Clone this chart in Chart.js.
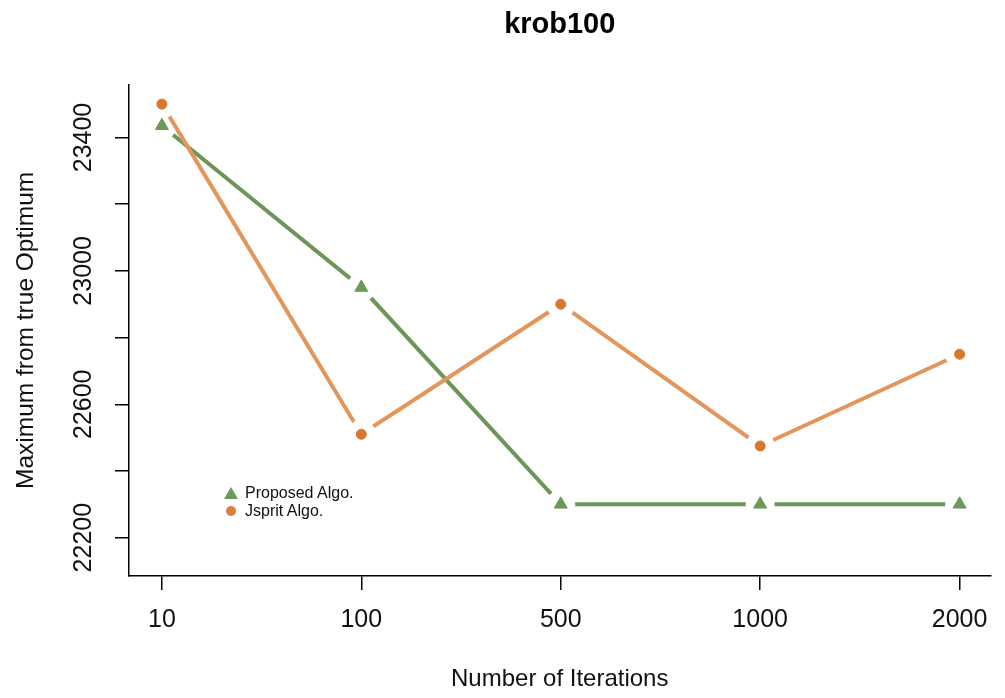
<!DOCTYPE html>
<html>
<head>
<meta charset="utf-8">
<script src="https://cdn.jsdelivr.net/npm/chart.js@4.4.0/dist/chart.umd.min.js"></script>
<style>
  html, body { margin: 0; padding: 0; background: #fff; }
  #wrap { position: relative; width: 1005px; height: 698px; }
  #legend {
    position: absolute; left: 224px; top: 484px;
    font: 16px "Liberation Sans", Arial, sans-serif; color: #111; line-height: 18px;
  }
  .item { display: flex; align-items: center; }
  .item svg { width: 14px; height: 14px; margin-right: 7px; }
</style>
</head>
<body>
<div id="wrap">
  <canvas id="chart"></canvas>
  <div id="legend">
    <div class="item">
      <svg viewBox="0 0 14 14"><polygon points="7,1 14,13 0,13" fill="#6a9a58"/></svg>Proposed Algo.
    </div>
    <div class="item">
      <svg viewBox="0 0 14 14"><circle cx="7" cy="7" r="5" fill="#db7d3f"/></svg>Jsprit Algo.
    </div>
  </div>
</div>
<script>
const iterations = ["10", "100", "500", "1000", "2000"];
const proposedAlgo = [23435, 22950, 22300, 22300, 22300];
const jspritAlgo = [23500, 22510, 22900, 22475, 22750];
const yTicks = [22200, 22400, 22600, 22800, 23000, 23200, 23400];
const yLabelled = [22200, 22600, 23000, 23400];

const greenLine = "#6b9658";
const greenMark = "#6a9a58";
const orangeLine = "#e3955a";
const orangeMark = "#d9772f";
const fontFamily = '"Liberation Sans", Arial, sans-serif';

const toPoints = (arr) => arr.map((v, i) => ({ x: i, y: v }));

// lines first, then white halos (gap like R type="b"), then markers on top
const lineSet = (data, color, order) => ({
  data: toPoints(data), borderColor: color, borderWidth: 4,
  pointRadius: 0, showLine: true, order
});
const haloSet = (data, order) => ({
  data: toPoints(data), showLine: false, pointRadius: 14.5,
  pointBackgroundColor: "#fff", pointBorderWidth: 0, order
});
const markSet = (data, color, style, r, order) => ({
  data: toPoints(data), showLine: false, pointStyle: style, pointRadius: r,
  pointBackgroundColor: color, pointBorderColor: color, pointBorderWidth: 1, order
});

new Chart(document.getElementById("chart"), {
  type: "scatter",
  data: {
    datasets: [
      lineSet(proposedAlgo, greenLine, 6),
      haloSet(proposedAlgo, 5),
      lineSet(jspritAlgo, orangeLine, 4),
      haloSet(jspritAlgo, 3),
      markSet(proposedAlgo, greenMark, "triangle", 7.5, 2),
      markSet(jspritAlgo, orangeMark, "circle", 5, 1)
    ]
  },
  options: {
    responsive: true,
    maintainAspectRatio: false,
    animation: false,
    layout: { padding: { right: 12 } },
    plugins: {
      legend: { display: false },
      tooltip: { enabled: false },
      title: {
        display: true, text: "krob100", color: "#000", fullSize: false,
        font: { family: fontFamily, size: 29, weight: "bold" },
        padding: { top: 8, bottom: 42 }
      }
    },
    scales: {
      x: {
        type: "linear", min: -0.165, max: 4.155,
        afterBuildTicks: (s) => { s.ticks = iterations.map((_, i) => ({ value: i })); },
        afterFit: (s) => { s.height = 122; },
        ticks: {
          callback: (v) => iterations[v], autoSkip: false, maxRotation: 0,
          color: "#111", padding: 15, font: { family: fontFamily, size: 25 }
        },
        grid: { drawOnChartArea: false, tickLength: 14, color: "#000", lineWidth: 1.5 },
        border: { color: "#000", width: 1.5 },
        title: {
          display: true, text: "Number of Iterations", color: "#111",
          font: { family: fontFamily, size: 24 }, padding: { top: 4, bottom: 4 }
        }
      },
      y: {
        min: 22085, max: 23558,
        afterBuildTicks: (s) => { s.ticks = yTicks.map((v) => ({ value: v })); },
        afterFit: (s) => { s.width = 129; },
        ticks: {
          callback: (v) => (yLabelled.includes(v) ? String(v) : ""),
          autoSkip: false, minRotation: 90, maxRotation: 90, crossAlign: "center",
          color: "#111", padding: -4, font: { family: fontFamily, size: 25 }
        },
        grid: { drawOnChartArea: false, tickLength: 14, color: "#000", lineWidth: 1.5 },
        border: { color: "#000", width: 1.5 },
        title: {
          display: true, text: "Maximum from true Optimum", color: "#111",
          font: { family: fontFamily, size: 24.5 }, padding: { top: 12, bottom: 4 }
        }
      }
    }
  }
});
</script>
</body>
</html>
